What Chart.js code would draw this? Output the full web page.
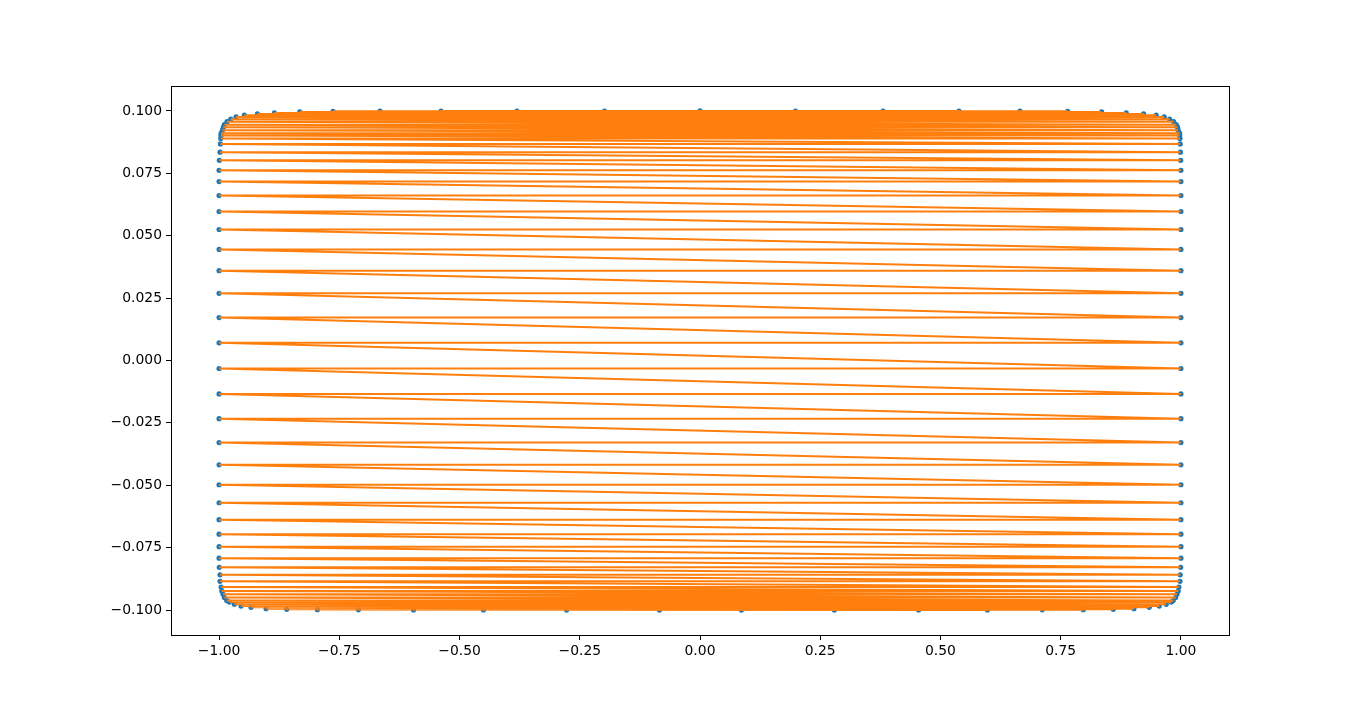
<!DOCTYPE html>
<html lang="en">
<head>
  <meta charset="UTF-8" />
  <title>Rounded box zigzag</title>
  <script src="https://cdn.jsdelivr.net/npm/chart.js"></script>
  <style>
    body { margin: 0; background: #fff; }
    canvas { display: block; }
  </style>
</head>
<body>
  <canvas id="chart" width="1366" height="712"></canvas>

  <script>
    // top centre point (the only one without a partner)
    const topX = [0.0];
    const topY = [0.1];

    // rows from top to bottom; each row has a right and a left point at the same height
    const rowY = [
      0.09999, 0.09997, 0.09995, 0.09992, 0.09985, 0.0996, 0.0992, 0.0988, 0.0983, 0.0976,
      0.0967, 0.0957, 0.0945, 0.0935, 0.0923, 0.0911, 0.0902, 0.0890, 0.0868, 0.0835,
      0.0802, 0.0762, 0.0717, 0.0661, 0.0597, 0.0525, 0.0445, 0.0360, 0.0269, 0.0172,
      0.0071, -0.0032, -0.0134, -0.0233, -0.0329, -0.0418, -0.0498, -0.0570, -0.0638, -0.0696,
      -0.0746, -0.0792, -0.0829, -0.0859, -0.0885, -0.0908, -0.0924, -0.0937, -0.0950, -0.0962,
      -0.0968, -0.0977, -0.0984, -0.0989, -0.09945, -0.0997, -0.09985, -0.09993, -0.09997, -0.09999,
      -0.1, -0.1
    ];
    const rightX = [
      0.1985, 0.3805, 0.5385, 0.6653, 0.7645, 0.8351, 0.8863, 0.9224, 0.9486, 0.9653,
      0.9765, 0.9848, 0.9902, 0.9931, 0.9944, 0.9973, 0.9975, 0.998, 0.9985, 0.999,
      0.9995, 1.0, 1.0, 1.0, 1.0, 1.0, 1.0, 1.0, 1.0, 1.0,
      1.0, 1.0, 1.0, 1.0, 1.0, 1.0, 1.0, 1.0, 1.0, 1.0,
      1.0, 1.0, 0.9995, 0.9985, 0.998, 0.9958, 0.9944, 0.9917, 0.989, 0.984,
      0.98, 0.9695, 0.9549, 0.9341, 0.9023, 0.8593, 0.7969, 0.7116, 0.5977, 0.4545,
      0.2794, 0.0861
    ];
    const leftX = [
      -0.1985, -0.3805, -0.5385, -0.6653, -0.7630, -0.8322, -0.8850, -0.9203, -0.9474, -0.9647,
      -0.9757, -0.9834, -0.9890, -0.9911, -0.9931, -0.9958, -0.9960, -0.9965, -0.9973, -0.9980,
      -0.9994, -1.0, -1.0, -1.0, -1.0, -1.0, -1.0, -1.0, -1.0, -1.0,
      -1.0, -1.0, -1.0, -1.0, -1.0, -1.0, -1.0, -1.0, -1.0, -1.0,
      -1.0, -1.0, -0.9995, -0.998, -0.998, -0.9958, -0.9944, -0.9917, -0.989, -0.984,
      -0.9786, -0.9682, -0.9543, -0.9335, -0.9023, -0.8593, -0.7956, -0.7104, -0.5958, -0.4503,
      -0.2775, -0.0842
    ];

    const xTicks = [-1.0, -0.75, -0.5, -0.25, 0.0, 0.25, 0.5, 0.75, 1.0];
    const yTicks = [-0.1, -0.075, -0.05, -0.025, 0.0, 0.025, 0.05, 0.075, 0.1];

    // path order: centre top, then right/left of every row going down
    const pts = [{ x: topX[0], y: topY[0] }];
    rowY.forEach((y, i) => {
      pts.push({ x: rightX[i], y: y });
      pts.push({ x: leftX[i], y: y });
    });

    const fmt = (v, d) => v.toFixed(d).replace('-', '\u2212');

    const frame = {
      id: 'frame',
      afterDraw(chart) {
        const a = chart.chartArea, ctx = chart.ctx;
        ctx.save();
        ctx.strokeStyle = '#000';
        ctx.lineWidth = 1;
        ctx.strokeRect(Math.round(a.left) + 0.5, Math.round(a.top) + 0.5,
          Math.round(a.right - a.left), Math.round(a.bottom - a.top));
        ctx.restore();
      }
    };

    const tickFont = { family: 'DejaVu Sans', size: 13.9 };

    new Chart(document.getElementById('chart'), {
      type: 'scatter',
      data: {
        datasets: [
          {
            data: pts,
            showLine: true,
            borderColor: '#ff7f0e',
            borderWidth: 2,
            pointRadius: 0,
            tension: 0,
            order: 0
          },
          {
            data: pts,
            showLine: false,
            backgroundColor: '#1f77b4',
            pointBackgroundColor: '#1f77b4',
            pointBorderWidth: 0,
            pointRadius: 2.6,
            order: 1
          }
        ]
      },
      options: {
        responsive: false,
        animation: false,
        devicePixelRatio: 1,
        layout: { padding: { left: 91, right: 137, top: 86, bottom: 37 } },
        plugins: { legend: { display: false }, tooltip: { enabled: false } },
        scales: {
          x: {
            type: 'linear',
            min: -1.1,
            max: 1.1,
            afterFit: s => { s.height = 40; },
            afterBuildTicks: s => { s.ticks = xTicks.map(v => ({ value: v })); },
            border: { display: false },
            grid: { drawOnChartArea: false, drawTicks: true, tickLength: 5, color: '#000' },
            ticks: { color: '#000', font: tickFont, padding: 3, maxRotation: 0,
                     callback: v => fmt(v, 2) }
          },
          y: {
            type: 'linear',
            min: -0.11,
            max: 0.11,
            afterFit: s => { s.width = 80; },
            afterBuildTicks: s => { s.ticks = yTicks.map(v => ({ value: v })); },
            border: { display: false },
            grid: { drawOnChartArea: false, drawTicks: true, tickLength: 5, color: '#000' },
            ticks: { color: '#000', font: tickFont, padding: 4,
                     callback: v => fmt(v, 3) }
          }
        }
      },
      plugins: [frame]
    });
  </script>
</body>
</html>
